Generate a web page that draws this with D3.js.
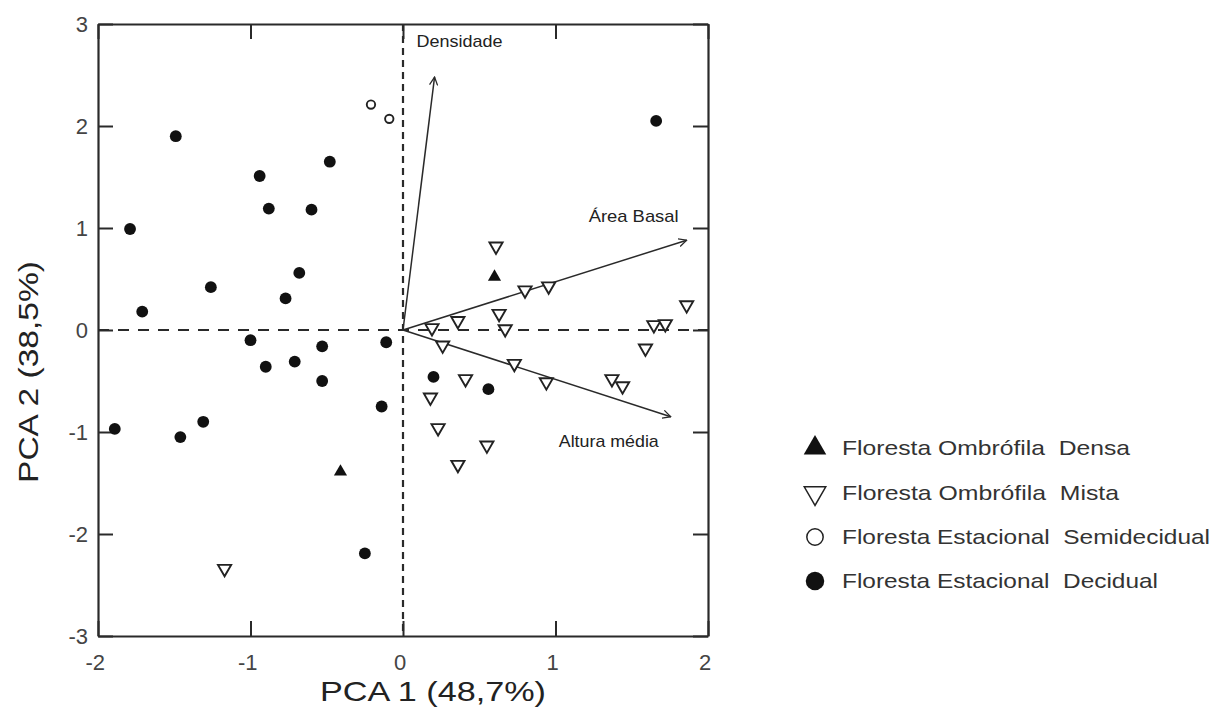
<!DOCTYPE html>
<html><head><meta charset="utf-8">
<script src="https://cdn.jsdelivr.net/npm/d3@7"></script>
<style>
html,body{margin:0;padding:0;background:#fff;}
svg{display:block;}
</style></head>
<body>
<svg id="chart" width="1229" height="716"></svg>
<script>
// ---- data ----
const xTicks = [-2, -1, 0, 1, 2];
const yTicks = [-3, -2, -1, 0, 1, 2, 3];
const xLabel = "PCA 1 (48,7%)";
const yLabel = "PCA 2 (38,5%)";

const densa = [ // Floresta Ombrófila Densa (filled triangle)
  {x: 0.60, y: 0.52}, {x: -0.41, y: -1.39}
];
const mista = [ // Floresta Ombrófila Mista (open down triangle)
  {x: 0.61, y: 0.82}, {x: 0.80, y: 0.39}, {x: 0.955, y: 0.43}, {x: 1.86, y: 0.245},
  {x: 0.19, y: 0.02}, {x: 0.36, y: 0.09}, {x: 0.63, y: 0.16}, {x: 0.67, y: 0.01},
  {x: 1.645, y: 0.05}, {x: 1.72, y: 0.06}, {x: 0.26, y: -0.15}, {x: 1.59, y: -0.18},
  {x: 0.73, y: -0.33}, {x: 0.94, y: -0.51}, {x: 1.37, y: -0.48}, {x: 1.44, y: -0.55},
  {x: 0.41, y: -0.48}, {x: 0.18, y: -0.66}, {x: 0.23, y: -0.96}, {x: 0.55, y: -1.13},
  {x: 0.36, y: -1.32}, {x: -1.17, y: -2.34}
];
const semidecidual = [ // Floresta Estacional Semidecidual (open circle)
  {x: -0.21, y: 2.21}, {x: -0.09, y: 2.07}
];
const decidual = [ // Floresta Estacional Decidual (filled circle)
  {x: -1.49, y: 1.90}, {x: -1.79, y: 0.99}, {x: -0.94, y: 1.51}, {x: -0.88, y: 1.19},
  {x: -0.60, y: 1.18}, {x: -0.48, y: 1.65}, {x: -0.68, y: 0.56}, {x: -1.26, y: 0.42},
  {x: -0.77, y: 0.31}, {x: -1.71, y: 0.18}, {x: 1.66, y: 2.05},
  {x: -1.00, y: -0.10}, {x: -0.90, y: -0.36}, {x: -0.71, y: -0.31}, {x: -0.53, y: -0.16},
  {x: -0.53, y: -0.50}, {x: -0.11, y: -0.12}, {x: -0.14, y: -0.75}, {x: -1.89, y: -0.97},
  {x: -1.46, y: -1.05}, {x: -1.31, y: -0.90}, {x: -0.25, y: -2.19},
  {x: 0.20, y: -0.46}, {x: 0.56, y: -0.58}
];
const vectorNames = ["Densidade", "Área Basal", "Altura média"];
const vectorX = [0.207, 1.86, 1.756];
const vectorY = [2.48, 0.88, -0.85];

const legendLabels = ["Floresta Ombrófila  Densa", "Floresta Ombrófila  Mista",
  "Floresta Estacional  Semidecidual", "Floresta Estacional  Decidual"];

// ---- drawing ----
const svg = d3.select("#chart");
const L = 98, R = 708, T = 24, B = 636;
const x = d3.scaleLinear().domain([-2, 2]).range([L, R]);
const y = d3.scaleLinear().domain([-3, 3]).range([B, T]);
const ink = "#2a2a2a";
const fontMain = "'Liberation Sans', Arial, sans-serif";
const fmt = d => String(d);

// zero reference lines
svg.append("line").attr("x1", x(0)).attr("x2", x(0)).attr("y1", y(3)).attr("y2", y(-3))
  .attr("stroke", ink).attr("stroke-width", 2.2).attr("stroke-dasharray", "7,5");
svg.append("line").attr("x1", x(-2)).attr("x2", x(2)).attr("y1", y(0)).attr("y2", y(0))
  .attr("stroke", ink).attr("stroke-width", 2).attr("stroke-dasharray", "11,9");

function styleAxis(g, showText) {
  g.select(".domain").attr("stroke", ink).attr("stroke-width", 2.2);
  g.selectAll(".tick line").attr("stroke", ink).attr("stroke-width", 2);
  g.selectAll(".tick text").attr("fill", "#444").attr("font-size", 22)
    .attr("font-family", fontMain);
  if (!showText) g.selectAll(".tick text").remove();
}
const gB = svg.append("g").attr("transform", `translate(0,${B})`)
  .call(d3.axisBottom(x).tickValues(xTicks).tickSizeInner(-15).tickSizeOuter(0).tickPadding(18).tickFormat(fmt));
styleAxis(gB, true);
gB.selectAll(".tick text").attr("dx", "-0.15em");
const gT = svg.append("g").attr("transform", `translate(0,${T})`)
  .call(d3.axisTop(x).tickValues(xTicks).tickSizeInner(-15).tickSizeOuter(0));
styleAxis(gT, false);
const gL = svg.append("g").attr("transform", `translate(${L},0)`)
  .call(d3.axisLeft(y).tickValues(yTicks).tickSizeInner(-15).tickSizeOuter(0).tickPadding(10).tickFormat(fmt));
styleAxis(gL, true);
const gR = svg.append("g").attr("transform", `translate(${R},0)`)
  .call(d3.axisRight(y).tickValues(yTicks).tickSizeInner(-15).tickSizeOuter(0));
styleAxis(gR, false);

// axis titles
svg.append("text").attr("x", 433).attr("y", 701).attr("text-anchor", "middle")
  .attr("font-family", fontMain).attr("font-size", 28).attr("fill", "#222")
  .attr("textLength", 226).attr("lengthAdjust", "spacingAndGlyphs").text(xLabel);
svg.append("text").attr("transform", "translate(38,372) rotate(-90)").attr("text-anchor", "middle")
  .attr("font-family", fontMain).attr("font-size", 28).attr("fill", "#222")
  .attr("textLength", 222).attr("lengthAdjust", "spacingAndGlyphs").text(yLabel);

// arrows
const defs = svg.append("defs");
defs.append("marker").attr("id", "arr").attr("viewBox", "0 0 10 10").attr("refX", 9).attr("refY", 5)
  .attr("markerWidth", 9).attr("markerHeight", 9).attr("markerUnits", "userSpaceOnUse").attr("orient", "auto")
  .append("path").attr("d", "M0,0.5 L9,5 L0,9.5").attr("fill", "none").attr("stroke", ink).attr("stroke-width", 1.4);
const vecs = vectorNames.map((n, i) => ({name: n, x: vectorX[i], y: vectorY[i]}));
svg.append("g").selectAll("line").data(vecs).join("line")
  .attr("x1", x(0)).attr("y1", y(0)).attr("x2", d => x(d.x)).attr("y2", d => y(d.y))
  .attr("stroke", ink).attr("stroke-width", 1.5).attr("marker-end", "url(#arr)");
const vecLabelPos = [{dx: 25, dy: -30, w: 86}, {dx: -53, dy: -18, w: 90}, {dx: -62, dy: 30, w: 100}];
svg.append("g").selectAll("text").data(vecs).join("text")
  .attr("x", (d, i) => x(d.x) + vecLabelPos[i].dx).attr("y", (d, i) => y(d.y) + vecLabelPos[i].dy)
  .attr("text-anchor", "middle").attr("font-family", "'Liberation Sans Narrow', 'Arial Narrow', " + fontMain)
  .attr("font-size", 17).attr("fill", "#222")
  .attr("textLength", (d, i) => vecLabelPos[i].w).attr("lengthAdjust", "spacingAndGlyphs")
  .text(d => d.name);

// points
const tri = d3.symbol().type(d3.symbolTriangle).size(75)();
const circ = d3.symbol().type(d3.symbolCircle).size(110)();
const ocirc = d3.symbol().type(d3.symbolCircle).size(55)();
const gp = svg.append("g");
gp.selectAll(".dec").data(decidual).join("path").attr("class", "dec").attr("d", circ)
  .attr("transform", d => `translate(${x(d.x)},${y(d.y)})`).attr("fill", "#111");
gp.selectAll(".semi").data(semidecidual).join("path").attr("class", "semi").attr("d", ocirc)
  .attr("transform", d => `translate(${x(d.x)},${y(d.y)})`).attr("fill", "#fff").attr("stroke", "#222").attr("stroke-width", 1.9);
gp.selectAll(".mis").data(mista).join("path").attr("class", "mis").attr("d", tri)
  .attr("transform", d => `translate(${x(d.x)},${y(d.y)}) rotate(180)`).attr("fill", "#fff").attr("stroke", "#222").attr("stroke-width", 1.9);
gp.selectAll(".den").data(densa).join("path").attr("class", "den").attr("d", tri)
  .attr("transform", d => `translate(${x(d.x)},${y(d.y)})`).attr("fill", "#111");

// legend
const legY = [448, 493, 537, 581];
const legW = [288, 277, 368, 316];
const legSym = [
  {d: d3.symbol().type(d3.symbolTriangle).size(220)(), rot: 0, fill: "#111", stroke: "none"},
  {d: d3.symbol().type(d3.symbolTriangle).size(200)(), rot: 180, fill: "#fff", stroke: "#222"},
  {d: d3.symbol().type(d3.symbolCircle).size(210)(), rot: 0, fill: "#fff", stroke: "#222"},
  {d: d3.symbol().type(d3.symbolCircle).size(270)(), rot: 0, fill: "#111", stroke: "none"}
];
const gl = svg.append("g");
legendLabels.forEach((lab, i) => {
  gl.append("path").attr("d", legSym[i].d)
    .attr("transform", `translate(815,${legY[i]}) rotate(${legSym[i].rot})`)
    .attr("fill", legSym[i].fill).attr("stroke", legSym[i].stroke).attr("stroke-width", 1.5);
  gl.append("text").attr("x", 842).attr("y", legY[i] + 7).attr("font-family", fontMain)
    .attr("font-size", 21).attr("fill", "#333").style("white-space", "pre")
    .attr("textLength", legW[i]).attr("lengthAdjust", "spacingAndGlyphs").text(lab);
});
</script>
</body></html>
